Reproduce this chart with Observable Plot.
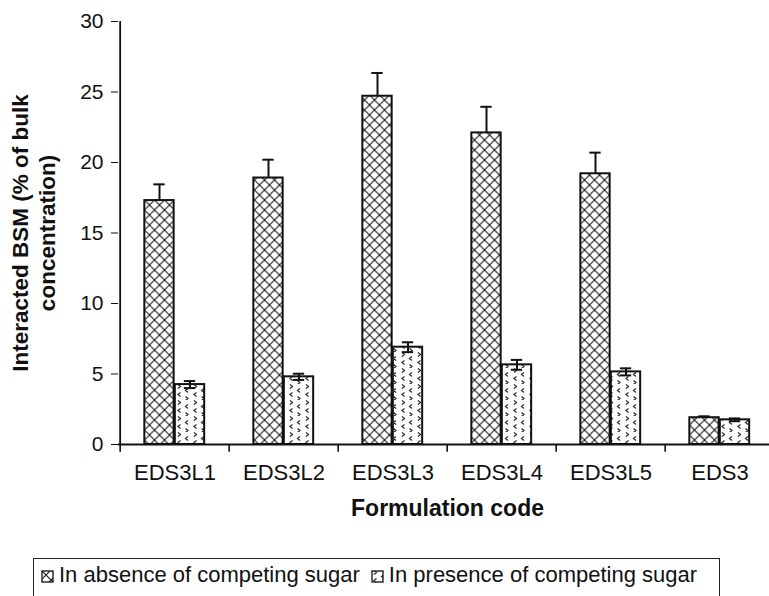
<!DOCTYPE html>
<html>
<head>
<meta charset="utf-8">
<script src="https://cdn.jsdelivr.net/npm/d3@7"></script>
<script src="https://cdn.jsdelivr.net/npm/@observablehq/plot@0.6"></script>
<style>
  html, body { margin: 0; padding: 0; background: #fff; overflow: hidden; }
  #wrap { position: relative; width: 769px; height: 596px; font-family: "Liberation Sans", Arial, sans-serif; }
  #chart { position: absolute; left: 0; top: 0; }
  #legend { position: absolute; left: 33px; top: 558px; width: 687px; height: 50px; border: 1.6px solid #222;
            font-size: 22px; color: #111; box-sizing: border-box; padding: 3px 0 0 7px; white-space: nowrap; line-height: 26px; }
  #legend svg { vertical-align: -1px; margin-right: 5px; }
  #legend .item { display: inline-block; margin-right: 11px; }
</style>
</head>
<body>
<div id="wrap">
  <div id="chart"></div>
  <div id="legend"></div>
</div>
<script>
const groups = ["EDS3L1", "EDS3L2", "EDS3L3", "EDS3L4", "EDS3L5", "EDS3"];
const absence = [17.3, 18.9, 24.7, 22.1, 19.2, 1.9];
const absenceErr = [1.15, 1.3, 1.65, 1.85, 1.5, 0.1];
const presence = [4.25, 4.8, 6.9, 5.65, 5.15, 1.75];
const presenceErr = [0.25, 0.22, 0.35, 0.35, 0.25, 0.1];
const seriesNames = ["In absence of competing sugar", "In presence of competing sugar"];
const yTicks = [0, 5, 10, 15, 20, 25, 30];

const rowsA = groups.map((g, i) => ({group: g, value: absence[i], err: absenceErr[i]}));
const rowsP = groups.map((g, i) => ({group: g, value: presence[i], err: presenceErr[i]}));

const x0 = 118, x1 = 776;
const band = (x1 - x0) / groups.length;
const half = band / 2;
const barW = 30;
const barInset = (band - barW) / 2;
const capInset = (band - 12) / 2;
const dA = -15.5, dP = 15;

function errMarks(rows, d, both) {
  const marks = [
    Plot.ruleX(rows, {x: "group", y1: r => both ? r.value - r.err : r.value, y2: r => r.value + r.err, dx: d, stroke: "#111", strokeWidth: 2}),
    Plot.tickY(rows, {x: "group", y: r => r.value + r.err, dx: d, insetLeft: capInset, insetRight: capInset, stroke: "#111", strokeWidth: 2})
  ];
  if (both) marks.push(Plot.tickY(rows, {x: "group", y: r => r.value - r.err, dx: d, insetLeft: capInset, insetRight: capInset, stroke: "#111", strokeWidth: 2}));
  return marks;
}

const plot = Plot.plot({
  width: 769,
  height: 545,
  marginTop: 21,
  marginBottom: 101,
  marginLeft: 118,
  marginRight: 0,
  style: {fontFamily: "Liberation Sans, Arial, sans-serif", color: "#111", background: "#fff", overflow: "hidden"},
  x: {domain: groups, range: [x0, x1], padding: 0, label: null},
  y: {domain: [0, 30], label: null},
  marks: [
    Plot.barY(rowsA, {x: "group", y: "value", dx: dA, insetLeft: barInset, insetRight: barInset, fill: "url(#hatchX)", stroke: "#111", strokeWidth: 2}),
    Plot.barY(rowsP, {x: "group", y: "value", dx: dP, insetLeft: barInset, insetRight: barInset, fill: "url(#dotsP)", stroke: "#111", strokeWidth: 2}),
    ...errMarks(rowsA, dA, false),
    ...errMarks(rowsP, dP, true),
    Plot.ruleY([0], {stroke: "#111", strokeWidth: 2}),
    Plot.ruleX([groups[0]], {x: d => d, dx: -half, y1: 0, y2: 30, stroke: "#111", strokeWidth: 1.8}),
    Plot.ruleX(groups, {x: d => d, dx: -half, y1: 0, y2: -0.55, stroke: "#111", strokeWidth: 1.6}),
    Plot.axisY({ticks: yTicks, tickSize: 7, tickPadding: 8, fontSize: 21, label: null, stroke: "#111"}),
    Plot.axisX({tickSize: 0, tickPadding: 20, fontSize: 22, label: null}),
    Plot.text(["Interacted BSM (% of bulk"], {frameAnchor: "left", dx: -98, rotate: -90, fontSize: 22.5, fontWeight: "bold", textAnchor: "middle", lineAnchor: "middle"}),
    Plot.text(["concentration)"], {frameAnchor: "left", dx: -71, rotate: -90, fontSize: 22.5, fontWeight: "bold", textAnchor: "middle", lineAnchor: "middle"}),
    Plot.text(["Formulation code"], {frameAnchor: "bottom", dy: 64, dx: 3.5, fontSize: 23, fontWeight: "bold", lineAnchor: "middle"})
  ]
});

const defs = `
<defs>
  <pattern id="hatchX" patternUnits="userSpaceOnUse" width="10" height="10">
    <rect width="10" height="10" fill="#fff"/>
    <path d="M0,0 L10,10 M10,0 L0,10" stroke="#1a1a1a" stroke-width="1.1"/>
  </pattern>
  <pattern id="dotsP" patternUnits="userSpaceOnUse" width="16" height="16">
    <rect width="16" height="16" fill="#fff"/>
    <path d="M3,0.5 L5.5,2.5 L3,4.5 M13,4.5 L10.5,6.5 L13,8.5 M5.5,8.5 L3,10.5 L5.5,12.5 M10.5,12.5 L13,14.5 L10.5,16.5" stroke="#222" stroke-width="1.2" fill="none"/>
  </pattern>
</defs>`;
plot.insertAdjacentHTML("afterbegin", defs);
document.getElementById("chart").appendChild(plot);

const swatchIds = ["hatchX", "dotsP"];
const legend = document.getElementById("legend");
legend.innerHTML = seriesNames.map((name, i) =>
  `<span class="item"><svg width="13" height="13"><rect x="1" y="1" width="11" height="11" fill="url(#${swatchIds[i]})" stroke="#222" stroke-width="1.4"/></svg>${name}</span>`
).join("");
</script>
</body>
</html>
